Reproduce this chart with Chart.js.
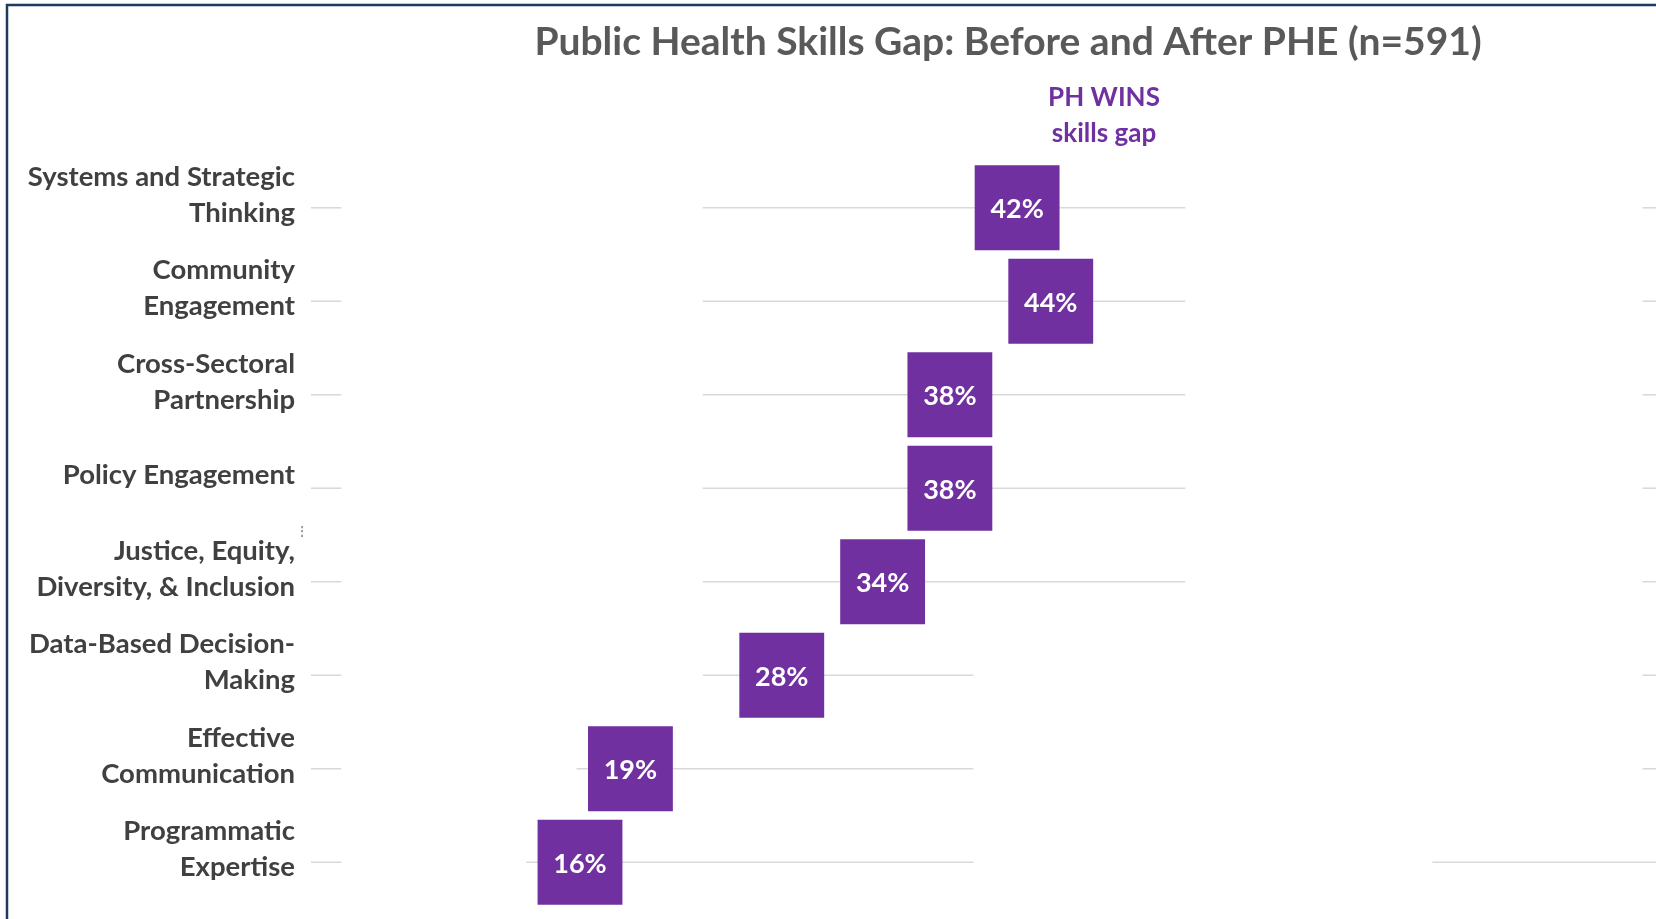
<!DOCTYPE html>
<html>
<head>
<meta charset="utf-8">
<title>Public Health Skills Gap</title>
<script src="https://cdn.jsdelivr.net/npm/chart.js@4/dist/chart.umd.min.js"></script>
<style>
  html, body { margin: 0; padding: 0; background: #fff; }
  #wrap { position: relative; width: 1656px; height: 919px; }
</style>
</head>
<body>
<div id="wrap"><canvas id="gap" width="1656" height="919"></canvas></div>
<script>
// Skills gap by domain, share of respondents (PH WINS), top row first.
const skills = [
    ['Systems and Strategic', 'Thinking'],
    ['Community', 'Engagement'],
    ['Cross-Sectoral', 'Partnership'],
    ['Policy Engagement'],
    ['Justice, Equity,', 'Diversity, & Inclusion'],
    ['Data-Based Decision-', 'Making'],
    ['Effective', 'Communication'],
    ['Programmatic', 'Expertise'],
];
const gapPct = [42, 44, 38, 38, 34, 28, 19, 16];

const TITLE = 'Public Health Skills Gap: Before and After PHE (n=591)';
const HEADER = ['PH WINS', 'skills gap'];

const PURPLE = '#7030A0';
const FONT = 'Lato, "Open Sans", sans-serif';

// Gridline spans per row, in axis units (parts of each rule are hidden
// behind the empty before/after columns).
function gridSpans(i) {
    const mid = i <= 4 ? [23.3, 52.0] : [i === 5 ? 23.3 : i === 6 ? 15.8 : 12.8, 39.4];
    const right = i === 7 ? [66.7, 80] : [79.2, 80];
    return [[0, 1.8], mid, right];
}

const decor = {
    id: 'decor',
    beforeDraw(chart) {
        const { ctx } = chart;
        const x = chart.scales.x, y = chart.scales.y;
        ctx.save();
        // frame
        ctx.strokeStyle = '#1F3A5F';
        ctx.lineWidth = 2.5;
        ctx.beginPath();
        ctx.moveTo(7, 930);
        ctx.lineTo(7, 5);
        ctx.lineTo(1700, 5);
        ctx.stroke();
        // row rules
        ctx.strokeStyle = '#D9D9D9';
        ctx.lineWidth = 1.6;
        skills.forEach((_, i) => {
            const py = y.getPixelForValue(i);
            gridSpans(i).forEach(([a, b]) => {
                ctx.beginPath();
                ctx.moveTo(x.getPixelForValue(a), py);
                ctx.lineTo(x.getPixelForValue(b), py);
                ctx.stroke();
            });
        });
        ctx.restore();
    },
    afterDatasetsDraw(chart) {
        const { ctx } = chart;
        const meta = chart.getDatasetMeta(0);
        ctx.save();
        ctx.fillStyle = '#fff';
        ctx.font = 'bold 27px ' + FONT;
        ctx.textAlign = 'center';
        ctx.textBaseline = 'middle';
        meta.data.forEach((pt, i) => {
            ctx.fillText(gapPct[i] + '%', pt.x, pt.y + 2);
        });
        ctx.restore();
    },
    afterDraw(chart) {
        const { ctx } = chart;
        ctx.save();
        ctx.textAlign = 'center';
        ctx.textBaseline = 'middle';
        ctx.fillStyle = '#595959';
        ctx.font = 'bold 39px ' + FONT;
        ctx.fillText(TITLE, 1008, 42);
        ctx.fillStyle = PURPLE;
        ctx.font = 'bold 26px ' + FONT;
        HEADER.forEach((line, k) => ctx.fillText(line, 1104, 98 + k * 36));
        ctx.fillStyle = '#9a9a9a';
        ctx.font = '18px "DejaVu Sans"';
        ctx.fillText('\u205D', 302, 533);
        ctx.restore();
    }
};

new Chart(document.getElementById('gap'), {
    type: 'line',
    data: {
        labels: skills,
        datasets: [{
            data: gapPct,
            showLine: false,
            pointStyle: 'rect',
            pointRadius: 60,
            pointHoverRadius: 60,
            pointBackgroundColor: PURPLE,
            pointBorderColor: PURPLE,
            pointBorderWidth: 0,
            clip: false,
        }],
    },
    options: {
        indexAxis: 'y',
        responsive: false,
        animation: false,
        events: [],
        layout: { autoPadding: false, padding: { top: 161, bottom: 10, left: 0, right: 0 } },
        plugins: {
            legend: { display: false },
            tooltip: { enabled: false },
        },
        scales: {
            x: {
                type: 'linear',
                min: 0,
                max: 80,
                display: false,
            },
            y: {
                type: 'category',
                offset: true,
                border: { display: false },
                grid: { display: false, drawTicks: false },
                afterFit(scale) {
                    scale.width = 311;
                    // the two-line labels must not push the plot area in
                    scale.paddingTop = 0;
                    scale.paddingBottom = 0;
                },
                ticks: {
                    padding: 16,
                    labelOffset: -13,
                    color: '#404040',
                    font: { family: FONT, size: 27.5, weight: 'bold', lineHeight: 1.31 },
                },
            },
        },
    },
    plugins: [decor],
});
</script>
</body>
</html>
